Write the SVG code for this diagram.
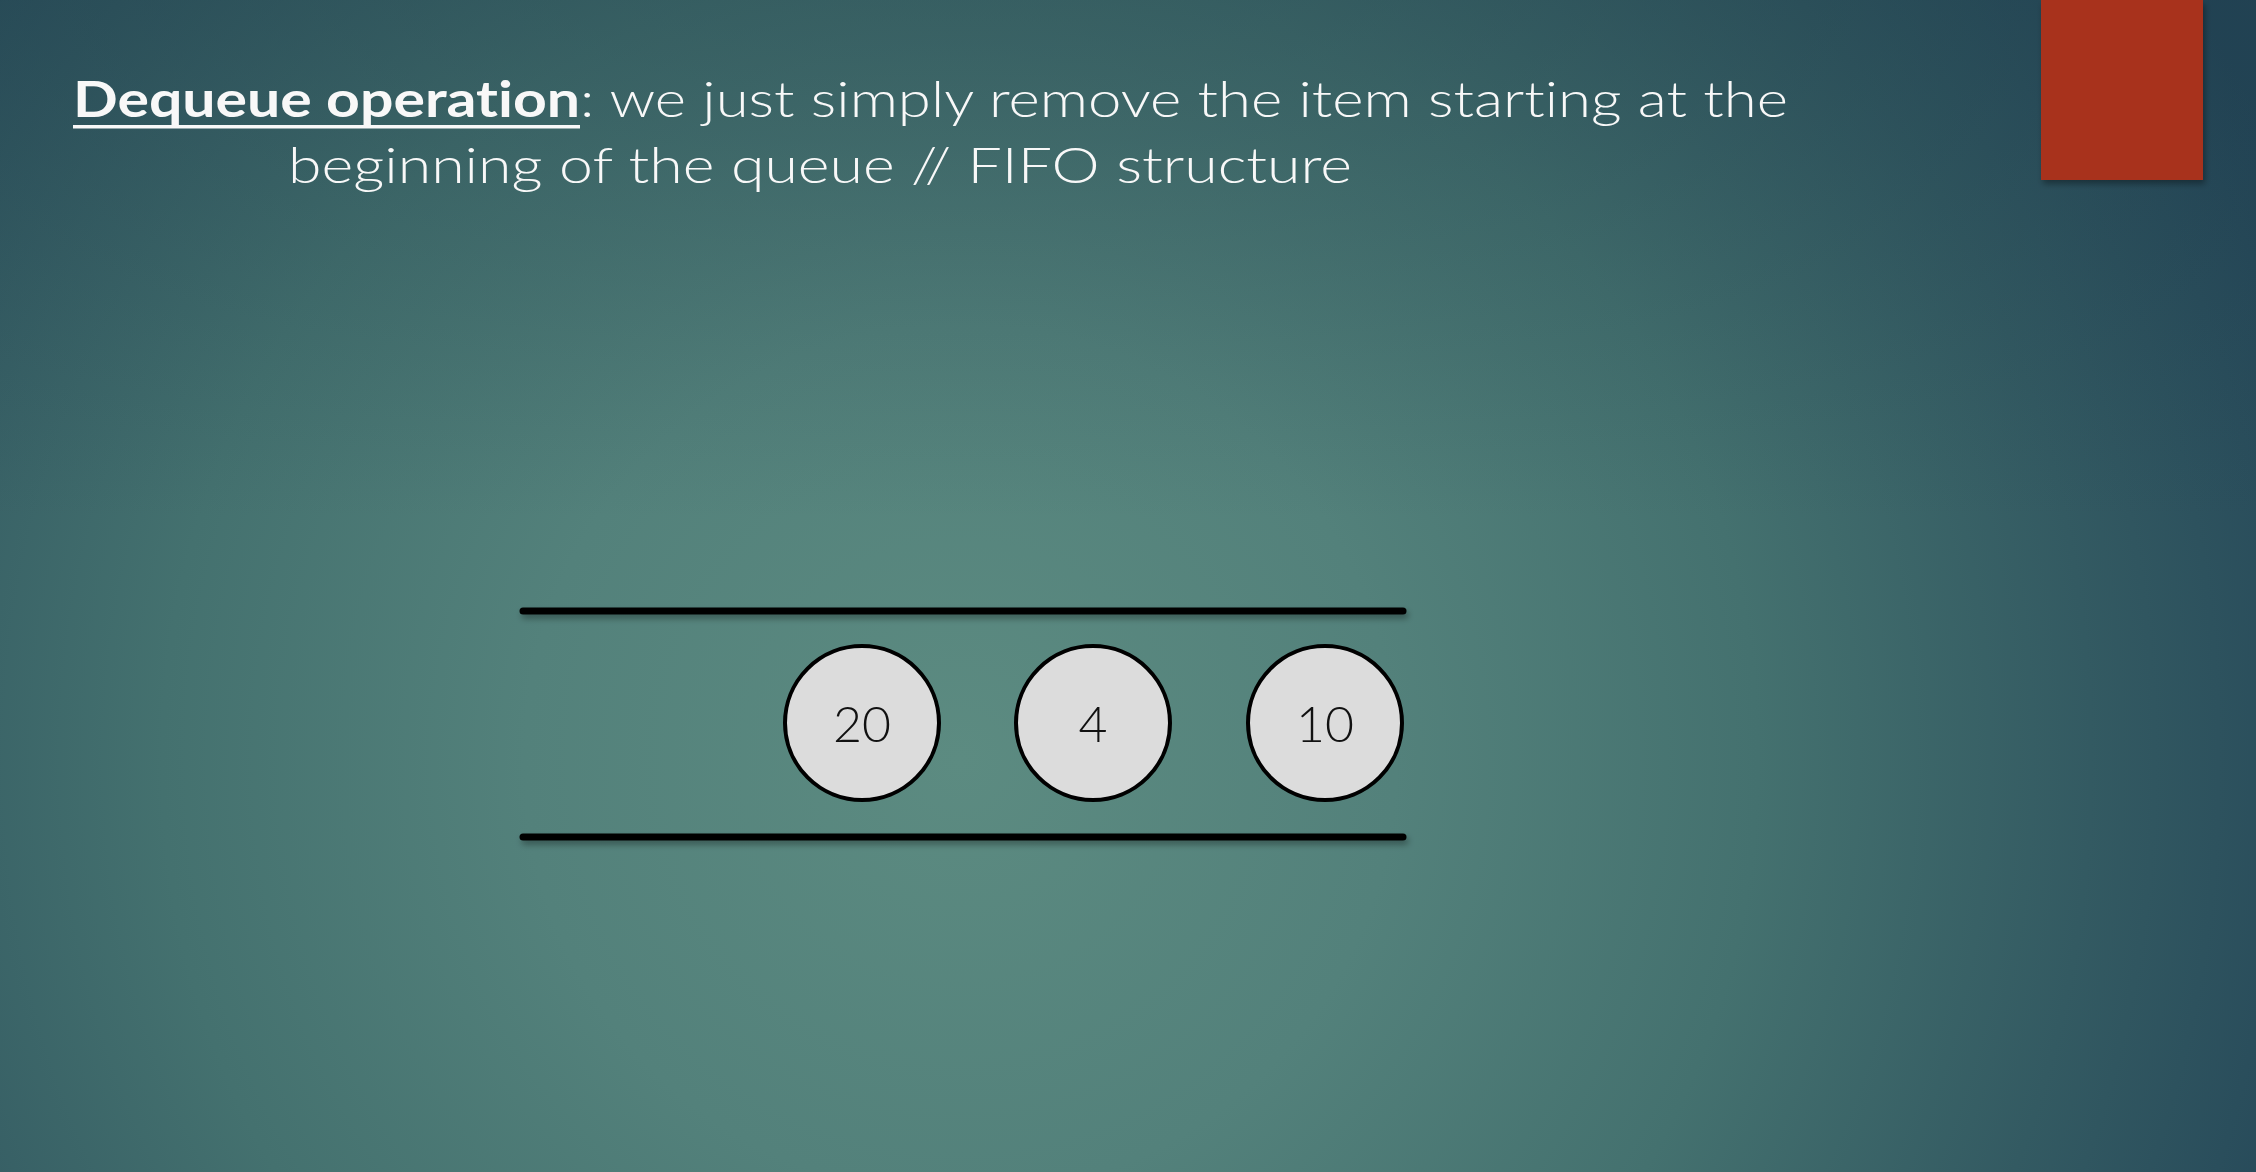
<svg xmlns="http://www.w3.org/2000/svg" width="2256" height="1172" viewBox="0 0 2256 1172">
  <defs>
    <radialGradient id="bg" cx="960" cy="760" r="1450" gradientUnits="userSpaceOnUse">
      <stop offset="0" stop-color="#5c8b81"/>
      <stop offset="0.3" stop-color="#53817b"/>
      <stop offset="0.55" stop-color="#44716f"/>
      <stop offset="0.78" stop-color="#335a62"/>
      <stop offset="1" stop-color="#244658"/>
    </radialGradient>
    <linearGradient id="topShade" x1="0" y1="0" x2="0" y2="1">
      <stop offset="0" stop-color="#1c3a48" stop-opacity="0.35"/>
      <stop offset="1" stop-color="#1c3a48" stop-opacity="0"/>
    </linearGradient>
    <filter id="sh" x="-10%" y="-10%" width="130%" height="140%">
      <feDropShadow dx="2" dy="4" stdDeviation="3" flood-color="#000" flood-opacity="0.35"/>
    </filter>
    <style>
      .title { font-family: "Century Gothic", "Lato", "Noto Sans", sans-serif; font-size: 50px; font-weight: 300; fill: #f8f8f8; font-variant-ligatures: none; }
      .bold { font-weight: bold; }
      .node circle { fill: #dcdcdc; stroke: #000; stroke-width: 4; }
      .node text { font-family: "Century Gothic", "Lato", "Noto Sans", sans-serif; font-size: 50px; font-weight: 300; fill: #111; text-anchor: middle; }
      .rail { stroke: #000; stroke-width: 7; stroke-linecap: round; }
    </style>
  </defs>
  <rect width="2256" height="1172" fill="url(#bg)"/>
  <rect width="2256" height="520" fill="url(#topShade)"/>
  <rect x="2041" y="0" width="162" height="180" fill="#a8321f" filter="url(#sh)"/>

  <g id="title" xml:space="preserve">
    <text class="title bold" x="73" y="117" textLength="507" lengthAdjust="spacingAndGlyphs">Dequeue operation</text>
    <rect x="73" y="125" width="507" height="3.5" fill="#f8f8f8"/>
    <text class="title" x="580" y="117" textLength="1208" lengthAdjust="spacingAndGlyphs">: we just simply remove the item starting at the</text>
    <text class="title" x="288" y="183" textLength="1064" lengthAdjust="spacingAndGlyphs">beginning of the queue  // FIFO structure</text>
  </g>

  <g id="queue" filter="url(#sh)">
    <line class="rail" x1="523" y1="611" x2="1403" y2="611"/>
    <line class="rail" x1="523" y1="837" x2="1403" y2="837"/>
  </g>

  <g id="node-20" class="node">
    <circle cx="862" cy="723" r="77"/>
    <text x="862" y="742">20</text>
  </g>
  <g id="node-4" class="node">
    <circle cx="1093" cy="723" r="77"/>
    <text x="1093" y="742">4</text>
  </g>
  <g id="node-10" class="node">
    <circle cx="1325" cy="723" r="77"/>
    <text x="1325" y="742">10</text>
  </g>
</svg>
